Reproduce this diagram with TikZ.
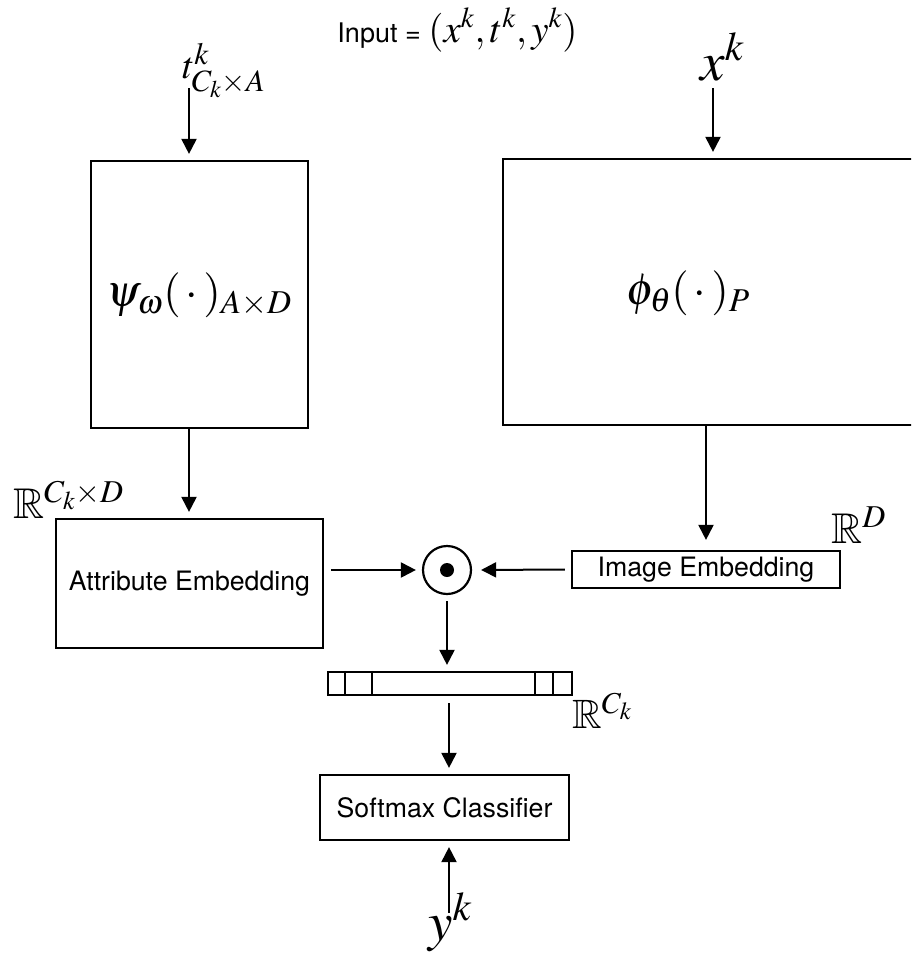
\documentclass[tikz,border=0pt]{standalone}
\usepackage{amssymb}
\usepackage{mathptmx}
\usepackage{fontspec}
\setsansfont{TeX Gyre Heros}
\usetikzlibrary{arrows.meta}
\DeclareMathSizes{38}{38}{31}{24}

\tikzset{
  blk/.style={draw, line width=2.2pt, inner sep=0pt},
  txt/.style={font=\sffamily\fontsize{26.7}{30}\selectfont},
  arr/.style={line width=2pt, -{Triangle[length=15pt,width=15pt]}, shorten >=6pt}
}

\begin{document}
\begin{tikzpicture}[x=1pt,y=-1pt]
			%%%%% FRAME %%%%%
			\useasboundingbox (0,0) rectangle (911,956);
			\clip (0,0) rectangle (911,956);
			
			%%%%% INPUTS %%%%%
			\node[anchor=base] (input) at (457.5,42) {\sffamily\fontsize{27}{30}\selectfont Input = \fontsize{39}{42}\selectfont$(x^k, t^k, y^k)$};
			\node[anchor=base west, inner sep=0pt] (tlab) at (182,78) {\fontsize{38}{40}\selectfont$t^k_{C_k\times A}$};
			\node[anchor=base west, inner sep=0pt] (xlab) at (700,80) {\fontsize{55}{60}\selectfont$x^k$};
			\coordinate (tin) at (189,88);
			\coordinate (xin) at (713,88);
			
			%%%%% NETWORKS %%%%%
			\node[blk, minimum width=217, minimum height=267] (psi) at (199.5,294.5) {};
			\node[font=\fontsize{45}{50}\selectfont] (psilab) at (199,295) {$\psi_\omega(\,\cdot\,)_{A\times D}$};
			
			\node[blk, minimum width=497, minimum height=266] (phi) at (751.5,292) {};
			\node[font=\fontsize{45}{50}\selectfont] (philab) at (688,293) {$\phi_\theta(\,\cdot\,)_P$};
			
			%%%%% EMBEDDINGS %%%%%
			\node[blk, txt, minimum width=267, minimum height=129] (attr) at (189.5,583.5) {Attribute Embedding};
			\node[anchor=base west, inner sep=0pt] (rattr) at (13,518) {\fontsize{43}{46}\selectfont$\mathbb{R}^{C_k\times D}$};
			
			\node[blk, txt, minimum width=268, minimum height=37] (img) at (706,569.5) {Image Embedding};
			\node[anchor=base west, inner sep=0pt] (rimg) at (831,543) {\fontsize{43}{46}\selectfont$\mathbb{R}^D$};
			
			\node[circle, draw, line width=2.2pt, minimum size=48, inner sep=0pt] (dot) at (447,570) {};
			\fill (dot) circle (7);
			
			%%%%% SCORES %%%%%
			\node[blk, minimum width=244, minimum height=23] (vec) at (450,683.5) {};
			\foreach \d in {18,45,208,226}
				\draw[line width=2pt] ([xshift=\d]vec.north west) -- ([xshift=\d]vec.south west);
			\node[anchor=base west, inner sep=0pt] (rvec) at (572,728) {\fontsize{41}{44}\selectfont$\mathbb{R}^{C_k}$};
			
			\node[blk, txt, minimum width=249, minimum height=65] (soft) at (444.5,807.5) {Softmax Classifier};
			\node[anchor=base west, inner sep=0pt] (ylab) at (428,940) {\fontsize{55}{60}\selectfont$y^k$};
			\coordinate (yin) at (449,913);
			
			%%%%% ARROWS %%%%%
			\draw[arr] (tin) -- (tin |- psi.north);
			\draw[arr] (xin) -- (xin |- phi.north);
			\draw[arr] (psi.south -| tin) -- (attr.north -| tin);
			\draw[arr, shorten >=10pt] (phi.south -| img.north) -- (img.north);
			\draw[arr, shorten <=7pt] (attr.east |- dot) -- (dot.west);
			\draw[arr, shorten <=6pt, shorten >=9pt] (img.west) -- (dot.east);
			\draw[arr, shorten <=6pt] (dot.south) -- (dot.south |- vec.north);
			\draw[arr, shorten <=7pt] (vec.south -| yin) -- (soft.north -| yin);
			\draw[arr] (yin) -- (yin |- soft.south);
			
			%%%%% END %%%%%
\end{tikzpicture}
\end{document}
